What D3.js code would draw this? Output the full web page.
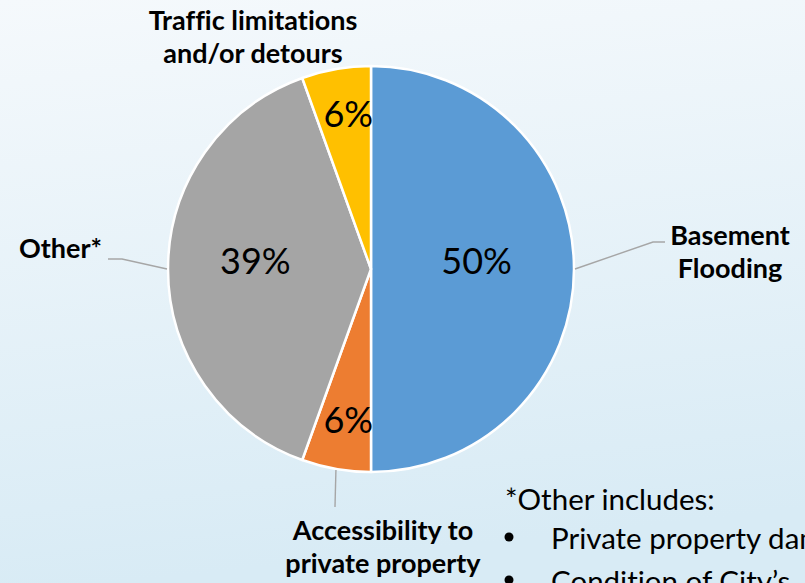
<!DOCTYPE html>
<html>
<head>
<meta charset="utf-8">
<script src="https://cdn.jsdelivr.net/npm/d3@7/dist/d3.min.js"></script>
<style>
  html, body { margin: 0; padding: 0; overflow: hidden; }
  svg { display: block; }
  text { font-variant-ligatures: none; }
</style>
</head>
<body>
<svg id="chart" width="805" height="583"></svg>
<script>
// ---- data ----
const categories = ["Basement Flooding", "Accessibility to private property", "Other*", "Traffic limitations and/or detours"];
const values = [50, 5.5, 39, 5.5];
const valueLabels = ["50%", "6%", "39%", "6%"];
const categoryLines = [["Basement", "Flooding"], ["Accessibility to", "private property"], ["Other*"], ["Traffic limitations", "and/or detours"]];
const colors = ["#5B9BD5", "#ED7D31", "#A5A5A5", "#FFC000"];
const noteTitle = "*Other includes:";
const noteItems = ["Private property damage", "Condition of City\u2019s"];

// ---- layout ----
const W = 805, H = 583;
const cx = 371, cy = 269, R = 203;
const svg = d3.select("#chart");
const font = "Lato, 'Open Sans', sans-serif";

const defs = svg.append("defs");
const grad = defs.append("linearGradient").attr("id", "bg").attr("x1", 0).attr("y1", 0).attr("x2", 0.15).attr("y2", 1);
grad.append("stop").attr("offset", "0%").attr("stop-color", "#F5F9FC");
grad.append("stop").attr("offset", "100%").attr("stop-color", "#D8EBF5");
svg.append("rect").attr("width", W).attr("height", H).attr("fill", "url(#bg)");

const pie = d3.pie().sort(null).value(d => d)(values);
const arc = d3.arc().innerRadius(0).outerRadius(R);
const g = svg.append("g").attr("transform", `translate(${cx},${cy})`);

g.selectAll("path.slice").data(pie).join("path")
  .attr("class", "slice")
  .attr("d", arc)
  .attr("fill", (d, i) => colors[i])
  .attr("stroke", "#fff")
  .attr("stroke-width", 2.5)
  .attr("stroke-linejoin", "round");

// value labels inside
g.selectAll("text.val").data(pie).join("text")
  .attr("class", "val")
  .each(function(d, i) {
    const frac = (d.endAngle - d.startAngle) / (2 * Math.PI);
    const big = frac > 0.2;
    const r = big ? R * 0.545 : R * 0.765;
    const a = (d.startAngle + d.endAngle) / 2;
    const x = Math.sin(a) * r + (big ? -5 : 4), y = -Math.cos(a) * r;
    d3.select(this).attr("x", x).attr("y", y + (big ? 5 : 11));
  })
  .attr("text-anchor", "middle")
  .attr("font-family", font)
  .attr("font-size", 36)
  .attr("fill", "#000")
  .text((d, i) => valueLabels[i]);

// category labels
const labelPos = [
  { x: 730, y: 245, anchor: "middle", line: [[653, 242], [665, 242]] },
  { x: 383, y: 540, anchor: "middle", line: [[335, 507]] },
  { x: 102, y: 258, anchor: "end", line: [[122, 259], [108, 259]] },
  { x: 253, y: 30, anchor: "middle", line: null }
];
const lh = 33;

pie.forEach((d, i) => {
  const p = labelPos[i];
  if (p.line) {
    const a = (d.startAngle + d.endAngle) / 2;
    const start = [cx + Math.sin(a) * (R + 1), cy - Math.cos(a) * (R + 1)];
    const pts = [start].concat(p.line);
    svg.append("path")
      .attr("d", d3.line()(pts))
      .attr("fill", "none")
      .attr("stroke", "#A6A6A6")
      .attr("stroke-width", 1.4);
  }
  const t = svg.append("text")
    .attr("font-family", font)
    .attr("font-weight", "bold")
    .attr("font-size", 27)
    .attr("text-anchor", p.anchor)
    .attr("fill", "#000");
  categoryLines[i].forEach((ln, j) => {
    t.append("tspan").attr("x", p.x).attr("y", p.y + j * lh).text(ln);
  });
});

// note
const note = svg.append("g").attr("font-family", font).attr("fill", "#000");
note.append("text").attr("x", 505).attr("y", 510).attr("font-size", 29.5).text(noteTitle);
noteItems.forEach((s, i) => {
  const y = 549 + i * 43;
  note.append("circle").attr("cx", 509).attr("cy", y - 12).attr("r", 4.5).attr("fill", "#000");
  note.append("text").attr("x", 551).attr("y", y).attr("font-size", 29.5).text(s);
});
</script>
</body>
</html>
